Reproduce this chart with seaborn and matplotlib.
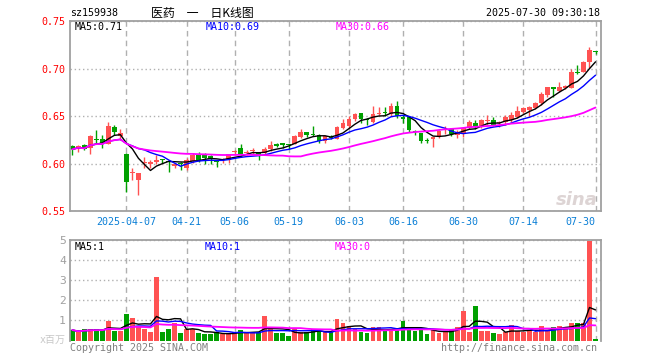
import matplotlib
matplotlib.use("Agg")
import matplotlib.pyplot as plt
import numpy as np
import pandas as pd
import seaborn as sns

# daily K-line, sz159938, 2025-03-24 .. 2025-07-30 (trading days)
holidays = ["2025-04-04", "2025-05-01", "2025-05-02", "2025-05-05", "2025-06-02"]

opens = [0.618, 0.616, 0.619, 0.616, 0.626, 0.6254, 0.621, 0.6388, 0.629, 0.610,
         0.590, 0.583, 0.6005, 0.600, 0.602, 0.604, 0.602, 0.597, 0.600, 0.595,
         0.6025, 0.609, 0.6085, 0.608, 0.602, 0.604, 0.6035, 0.612, 0.616, 0.611,
         0.6135, 0.6125, 0.611, 0.615, 0.621, 0.6205, 0.6195, 0.621, 0.628, 0.6335,
         0.6305, 0.6295, 0.624, 0.6275, 0.626, 0.6378, 0.640, 0.647, 0.6528, 0.6465,
         0.6435, 0.6525, 0.6535, 0.652, 0.6608, 0.6493, 0.6488, 0.6338, 0.6317, 0.6245,
         0.6255, 0.6275, 0.6355, 0.6358, 0.6305, 0.632, 0.6378, 0.6425, 0.6388, 0.6448,
         0.6458, 0.643, 0.6435, 0.6458, 0.6485, 0.654, 0.6563, 0.658, 0.6633, 0.672,
         0.680, 0.6762, 0.679, 0.6797, 0.6958, 0.6965, 0.707, 0.718]
highs = [0.620, 0.619, 0.621, 0.630, 0.635, 0.630, 0.644, 0.6405, 0.636, 0.6107,
         0.595, 0.5905, 0.607, 0.604, 0.609, 0.605, 0.604, 0.600, 0.602, 0.6055,
         0.611, 0.612, 0.611, 0.6085, 0.604, 0.606, 0.6105, 0.614, 0.6205, 0.614,
         0.6165, 0.6125, 0.617, 0.6235, 0.622, 0.622, 0.6205, 0.630, 0.6365, 0.6335,
         0.640, 0.6315, 0.6295, 0.6295, 0.6395, 0.6465, 0.650, 0.6528, 0.6528, 0.6475,
         0.661, 0.6598, 0.659, 0.6635, 0.6655, 0.651, 0.650, 0.635, 0.6317, 0.6265,
         0.628, 0.6355, 0.639, 0.6375, 0.635, 0.638, 0.6455, 0.646, 0.6468, 0.651,
         0.649, 0.6445, 0.651, 0.654, 0.6608, 0.659, 0.6608, 0.665, 0.6748, 0.6808,
         0.680, 0.686, 0.683, 0.700, 0.7042, 0.7077, 0.7227, 0.718]
lows = [0.609, 0.612, 0.614, 0.610, 0.621, 0.616, 0.621, 0.630, 0.6247, 0.5703,
        0.583, 0.567, 0.595, 0.595, 0.600, 0.601, 0.5915, 0.5955, 0.593, 0.593,
        0.6005, 0.602, 0.600, 0.600, 0.596, 0.601, 0.601, 0.609, 0.607, 0.609,
        0.610, 0.6035, 0.6105, 0.6135, 0.617, 0.6165, 0.6155, 0.6205, 0.6265, 0.6275,
        0.6285, 0.6215, 0.622, 0.6255, 0.6255, 0.636, 0.637, 0.6445, 0.6425, 0.6405,
        0.643, 0.651, 0.6505, 0.6505, 0.6478, 0.6425, 0.633, 0.6295, 0.622, 0.622,
        0.6177, 0.627, 0.631, 0.629, 0.627, 0.628, 0.6365, 0.636, 0.6375, 0.641,
        0.6395, 0.638, 0.641, 0.644, 0.648, 0.653, 0.6505, 0.6575, 0.6615, 0.6705,
        0.6703, 0.6755, 0.678, 0.679, 0.6937, 0.6958, 0.701, 0.7157]
closes = [0.615, 0.618, 0.615, 0.629, 0.625, 0.6212, 0.6395, 0.6335, 0.6325, 0.5808,
          0.5905, 0.590, 0.601, 0.601, 0.604, 0.6035, 0.6015, 0.5995, 0.5995, 0.6035,
          0.609, 0.6035, 0.606, 0.6045, 0.6015, 0.6045, 0.6095, 0.6125, 0.610, 0.6115,
          0.614, 0.6085, 0.615, 0.6198, 0.6185, 0.620, 0.619, 0.6285, 0.6335, 0.630,
          0.630, 0.624, 0.6285, 0.627, 0.6388, 0.6423, 0.647, 0.6517, 0.6468, 0.646,
          0.6525, 0.653, 0.653, 0.6608, 0.6495, 0.6466, 0.6355, 0.6333, 0.624, 0.624,
          0.6275, 0.6338, 0.6358, 0.6315, 0.6315, 0.6375, 0.6435, 0.6385, 0.6455, 0.645,
          0.6405, 0.6432, 0.6493, 0.6512, 0.6552, 0.658, 0.6598, 0.6633, 0.6727, 0.6808,
          0.6783, 0.6808, 0.6818, 0.6965, 0.6948, 0.707, 0.7192, 0.7175]
# volume, x 1e6
volumes = [0.52, 0.40, 0.55, 0.55, 0.55, 0.52, 0.98, 0.47, 0.47, 1.32,
           1.12, 0.68, 0.57, 0.43, 3.18, 0.40, 0.57, 0.87, 0.37, 0.55,
           0.55, 0.38, 0.32, 0.33, 0.40, 0.32, 0.32, 0.40, 0.52, 0.40,
           0.40, 0.40, 1.22, 0.57, 0.35, 0.35, 0.22, 0.55, 0.40, 0.40,
           0.55, 0.47, 0.40, 0.40, 1.07, 0.85, 0.73, 0.55, 0.43, 0.38,
           0.67, 0.67, 0.48, 0.55, 0.52, 0.97, 0.67, 0.48, 0.55, 0.32,
           0.55, 0.38, 0.43, 0.52, 0.67, 1.47, 0.43, 1.72, 0.47, 0.47,
           0.38, 0.33, 0.42, 0.75, 0.47, 0.43, 0.47, 0.43, 0.72, 0.47,
           0.67, 0.72, 0.67, 0.87, 0.87, 0.87, 4.93, 0.07]

tick_dates = ["2025-04-07", "2025-04-21", "2025-05-06", "2025-05-19", "2025-06-03",
              "2025-06-16", "2025-06-30", "2025-07-14", "2025-07-30"]
tick_labels = ["2025-04-07", "04-21", "05-06", "05-19", "06-03",
               "06-16", "06-30", "07-14", "07-30"]
price_ticks = [0.55, 0.60, 0.65, 0.70, 0.75]
vol_ticks = [1, 2, 3, 4, 5]

RED = "#ff5252"
GREEN = "#00a000"

days = pd.bdate_range("2025-03-24", "2025-07-30")
days = days[~days.isin(pd.to_datetime(holidays))]
df = pd.DataFrame({"date": days, "open": opens, "high": highs, "low": lows,
                   "close": closes, "vol": volumes})
df["idx"] = np.arange(len(df))
df["color"] = np.where(df.close >= df.open, RED, GREEN)
for n in (5, 10, 30):
    df[f"ma{n}"] = df.close.rolling(n, min_periods=1).mean()
    df[f"vma{n}"] = df.vol.rolling(n, min_periods=1).mean()

tick_pos = [int(df.idx[df.date == pd.Timestamp(d)].iloc[0]) for d in tick_dates]

sns.set_theme(style="white")
plt.rcParams["font.family"] = ["DejaVu Sans Mono", "Noto Sans CJK SC"]
FS = 7.2

fig = plt.figure(figsize=(6.6, 3.6), dpi=100)
ax = fig.add_axes([70 / 660, 1 - 211 / 360, 530.5 / 660, 190 / 360])
axv = fig.add_axes([70 / 660, 1 - 340.5 / 360, 530.5 / 660, 100.5 / 360])

# candles
ax.vlines(df.idx, df.low, df.high, colors=df.color, lw=1, zorder=2)
body = np.maximum((df.close - df.open).abs(), 0.0011)
ax.bar(df.idx, body, bottom=np.minimum(df.open, df.close), width=0.78,
       color=df.color, lw=0, zorder=2)
for col, c, w in (("ma5", "black", 1.0), ("ma10", "#0000ff", 1.0), ("ma30", "#ff00ff", 1.3)):
    sns.lineplot(x=df.idx, y=df[col], ax=ax, color=c, lw=w, estimator=None, zorder=3)

# volume
axv.bar(df.idx, df.vol, width=0.78, color=df.color, lw=0, zorder=2)
for col, c, w in (("vma5", "black", 1.0), ("vma10", "#0000ff", 1.0), ("vma30", "#ff00ff", 1.3)):
    sns.lineplot(x=df.idx, y=df[col], ax=axv, color=c, lw=w, estimator=None, zorder=3)

for a in (ax, axv):
    a.set_xlim(-0.38, 87.83)
    a.set_xlabel("")
    a.set_ylabel("")
    a.set_xticks(tick_pos)
    a.grid(False)
    a.xaxis.grid(True, color="#b0b0b0", lw=1, ls=(0, (4, 3)), zorder=0)
    a.yaxis.grid(True, color="#b0b0b0", lw=1, ls=(0, (1, 2)), zorder=0)
    for s in a.spines.values():
        s.set_color("#a0a0a0")
        s.set_linewidth(1.3)

ax.set_ylim(0.55, 0.75)
ax.set_yticks(price_ticks)
ax.set_yticklabels([f"{v:.2f}" for v in price_ticks], color="red", fontsize=FS)
ax.set_xticklabels(tick_labels, color="#0a7fd6", fontsize=FS)
ax.get_xticklabels()[-1].set_horizontalalignment("right")
ax.tick_params(axis="x", length=0, pad=4)
ax.tick_params(axis="y", length=0, pad=3)

axv.set_ylim(0, 5)
axv.set_yticks(vol_ticks)
axv.set_yticklabels([str(v) for v in vol_ticks], color="#a0a0a0", fontsize=FS + 1)
axv.set_xticklabels([])
axv.tick_params(length=0, pad=3)
axv.spines["bottom"].set_visible(False)


def put(x, y, s, **kw):
    fig.text(x / 660, 1 - y / 360, s, va="center", **kw)


put(70, 13, "sz159938", fontsize=FS, color="black")
put(151, 13, "医药\u3000一\u3000日K线图", fontsize=8.6, color="black", family=["Noto Sans CJK SC"])
put(600, 13, "2025-07-30 09:30:18", fontsize=FS, color="black", ha="right")

put(75, 27, f"MA5:{df.ma5.iloc[-1]:.2f}", fontsize=FS, color="black")
put(206, 27, f"MA10:{df.ma10.iloc[-1]:.2f}", fontsize=FS, color="#0000ff")
put(336, 27, f"MA30:{df.ma30.iloc[-1]:.2f}", fontsize=FS, color="#ff00ff")

put(75, 247, f"MA5:{int(df.vma5.iloc[-1])}", fontsize=FS, color="black")
put(205, 247, f"MA10:{int(df.vma10.iloc[-1])}", fontsize=FS, color="#0000ff")
put(335, 247, f"MA30:{int(df.vma30.iloc[-1])}", fontsize=FS, color="#ff00ff")

put(66, 340, "x百万", fontsize=FS, color="#c8c8c8", ha="right",
    family=["DejaVu Sans Mono", "Noto Sans CJK SC"])
put(70, 348, "Copyright 2025 SINA.COM", fontsize=FS, color="#808080")
put(597, 348, "http://finance.sina.com.cn", fontsize=FS, color="#808080", ha="right")

# watermark
put(598, 200, "sina", fontsize=13, color="#ddd4d4", ha="right",
    family=["DejaVu Sans"], fontweight="bold", fontstyle="italic")

fig.savefig("out.png", dpi=100, facecolor="white")
